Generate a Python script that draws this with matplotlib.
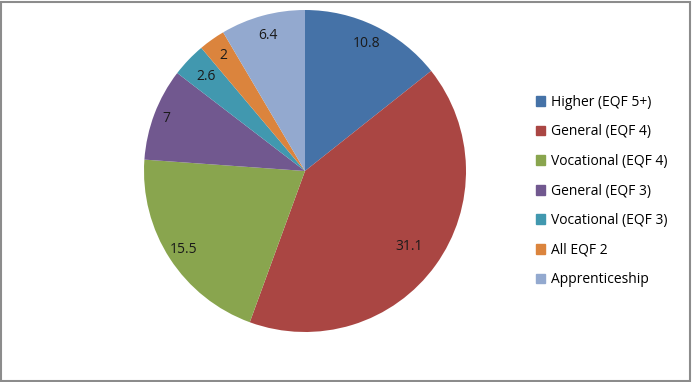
import matplotlib.pyplot as plt
import numpy as np
from matplotlib.patches import Rectangle

categories = ["Higher (EQF 5+)", "General (EQF 4)", "Vocational (EQF 4)", "General (EQF 3)",
              "Vocational (EQF 3)", "All EQF 2", "Apprenticeship"]
values = [10.8, 31.1, 15.5, 7, 2.6, 2, 6.4]
value_labels = ["10.8", "31.1", "15.5", "7", "2.6", "2", "6.4"]
colors = ["#4572A7", "#AA4643", "#89A54E", "#71588F", "#4198AF", "#DB843D", "#93A9CF"]
label_dist = [0.88, 0.80, 0.90, 0.92, 0.85, 0.88, 0.87]

plt.rcParams["font.family"] = ["Open Sans", "DejaVu Sans"]

fig = plt.figure(figsize=(6.92, 3.82), dpi=100)
W, H = 692, 382
cx, cy, r = 305, 211, 161
ax = fig.add_axes([(cx - r) / W, (cy - r) / H, 2 * r / W, 2 * r / H])

wedges, _ = ax.pie(values, colors=colors, startangle=90, counterclock=False,
                   wedgeprops=dict(linewidth=0))
ax.set_aspect("equal")
ax.set_xlim(-1, 1)
ax.set_ylim(-1, 1)

for w, lab, d in zip(wedges, value_labels, label_dist):
    ang = np.deg2rad((w.theta1 + w.theta2) / 2)
    ax.text(d * np.cos(ang), d * np.sin(ang), lab, ha="center", va="center",
            fontsize=10, color="#1a1a1a")

handles = [plt.Rectangle((0, 0), 1, 1, color=c) for c in colors]
fig.legend(handles, categories, loc="center left", bbox_to_anchor=(530 / W, 1 - 191 / H),
           frameon=False, fontsize=10, handlelength=0.7, handleheight=0.7,
           handletextpad=0.4, labelspacing=1.05, borderaxespad=0)

fig.add_artist(Rectangle((0.002, 0.003), 0.995, 0.993, transform=fig.transFigure,
                         fill=False, edgecolor="#8c8c8c", linewidth=1.5))

fig.savefig("out.png", dpi=100)
